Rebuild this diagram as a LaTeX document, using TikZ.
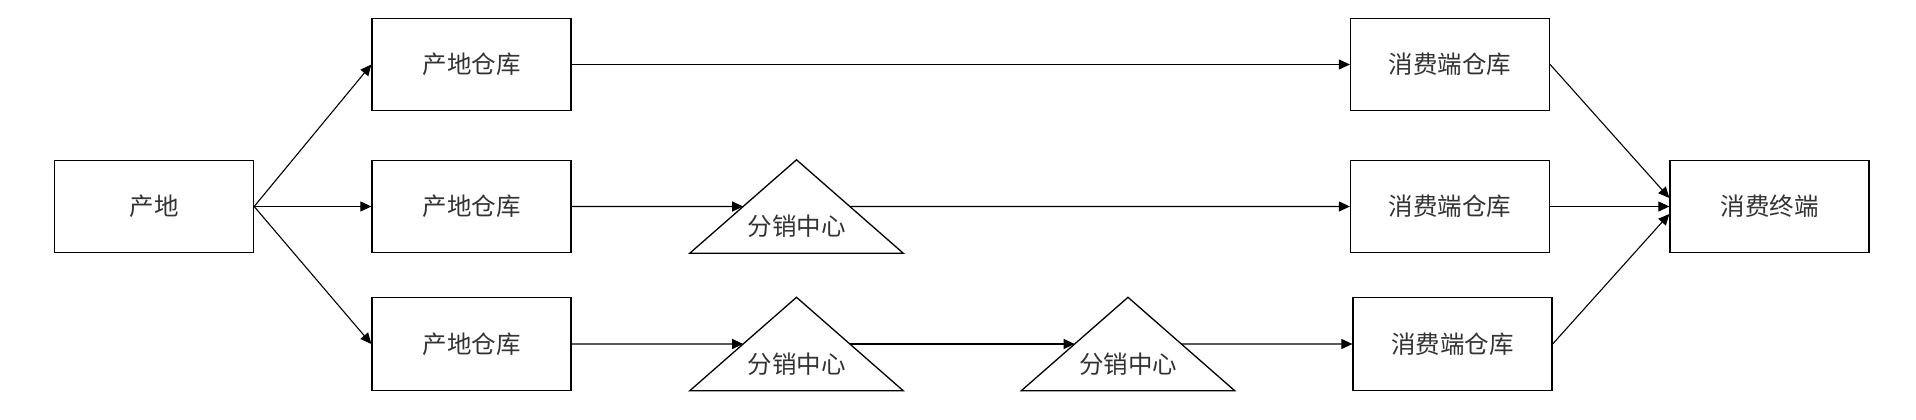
\documentclass[tikz,border=0pt]{standalone}
\usepackage{fontspec}
\newfontfamily\cjkfont{Noto Sans CJK SC}
\usetikzlibrary{arrows.meta,calc}
\definecolor{txt}{HTML}{333333}
\begin{document}
\begin{tikzpicture}[x=1pt,y=-1pt,
  lbl/.style={font=\cjkfont\fontsize{24.5}{28}\selectfont, text=txt},
  box/.style={draw=black, line width=1.3pt, minimum width=199pt, minimum height=92.5pt, inner sep=0pt, lbl},
  tribox/.style={minimum width=213pt, minimum height=93pt, inner sep=0pt},
  triline/.style={draw=black, line width=1.3pt, line join=miter},
  trilabel/.style={inner sep=0pt, lbl},
  conn/.style={draw=black, line width=1.1pt, -{Triangle[length=11pt,width=10pt]}}]
\useasboundingbox (0,0) rectangle (1916,420);

% boxes
\node[box] (src) at (154,206.5) {产地};
\node[box] (w1) at (471.5,64.5) {产地仓库};
\node[box] (w2) at (471.5,206.5) {产地仓库};
\node[box] (w3) at (471.5,344) {产地仓库};
\node[box] (c1) at (1450,64.5) {消费端仓库};
\node[box] (c2) at (1450,206.5) {消费端仓库};
\node[box] (c3) at (1452.5,344) {消费端仓库};
\node[box] (dst) at (1769.5,206.5) {消费终端};

% triangles
\node[tribox] (t1) at (796.5,206.5) {};
\node[tribox] (t2) at (796.5,344) {};
\node[tribox] (t3) at (1128,344) {};
\foreach \t in {t1,t2,t3}{
  \draw[triline] (\t.south west) -- (\t.north) -- (\t.south east) -- cycle;
  \coordinate (\t in) at ($(\t.south west)!0.5!(\t.north)$);
  \coordinate (\t out) at ($(\t.south east)!0.5!(\t.north)$);
}
\node[trilabel] (t1l) at ($(t1.center)+(0,20)$) {分销中心};
\node[trilabel] (t2l) at ($(t2.center)+(0,20)$) {分销中心};
\node[trilabel] (t3l) at ($(t3.center)+(0,20)$) {分销中心};

% end points on the consumer terminal
\coordinate (dA) at ($(dst.west)+(0,-8.5)$);
\coordinate (dC) at ($(dst.west)+(0,7.5)$);

% connectors
\draw[conn] (src.east) -- (w1.west);
\draw[conn] (src.east) -- (w2.west);
\draw[conn] (src.east) -- (w3.west);

\draw[conn] (w1.east) -- (c1.west);

\draw[conn] (w2.east) -- (t1in);
\draw[conn] (t1out) -- (c2.west);

\draw[conn] (w3.east) -- (t2in);
\draw[conn] (t2out) -- (t3in);
\draw[conn] (t3out) -- (c3.west);

\draw[conn] (c1.east) -- (dA);
\draw[conn] (c2.east) -- (dst.west);
\draw[conn] (c3.east) -- (dC);
\end{tikzpicture}
\end{document}
